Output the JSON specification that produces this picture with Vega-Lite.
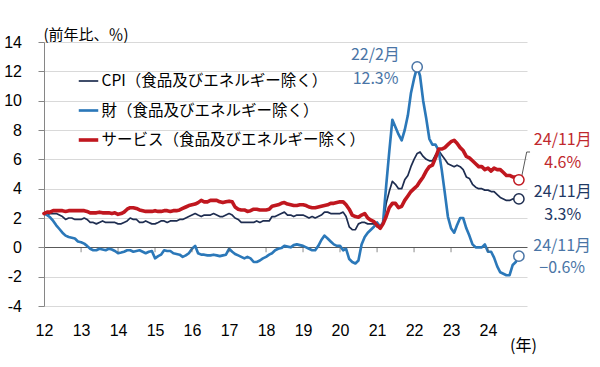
{
  "$schema": "https://vega.github.io/schema/vega-lite/v6.json",
  "width": 483,
  "height": 264,
  "autosize": "none",
  "padding": {"left": 44, "top": 42, "right": 73, "bottom": 61},
  "background": "white",
  "config": {"view": {"stroke": null}, "font": "Noto Sans CJK JP"},
  "datasets": {
    "d": [
      {"d":"2012-01-01","c":2.3,"g":2.3,"s":2.3},
      {"d":"2012-02-01","c":2.2,"g":2.2,"s":2.4},
      {"d":"2012-03-01","c":2.3,"g":2.05,"s":2.4},
      {"d":"2012-04-01","c":2.3,"g":1.8,"s":2.5},
      {"d":"2012-05-01","c":2.3,"g":1.5,"s":2.5},
      {"d":"2012-06-01","c":2.2,"g":1.25,"s":2.5},
      {"d":"2012-07-01","c":2.1,"g":1.0,"s":2.5},
      {"d":"2012-08-01","c":1.9,"g":0.8,"s":2.45},
      {"d":"2012-09-01","c":2.0,"g":0.7,"s":2.5},
      {"d":"2012-10-01","c":2.0,"g":0.65,"s":2.5},
      {"d":"2012-11-01","c":1.9,"g":0.6,"s":2.5},
      {"d":"2012-12-01","c":1.9,"g":0.4,"s":2.5},
      {"d":"2013-01-01","c":1.9,"g":0.35,"s":2.5},
      {"d":"2013-02-01","c":2.0,"g":0.25,"s":2.5},
      {"d":"2013-03-01","c":1.9,"g":0.1,"s":2.45},
      {"d":"2013-04-01","c":1.7,"g":-0.1,"s":2.35},
      {"d":"2013-05-01","c":1.7,"g":-0.2,"s":2.35},
      {"d":"2013-06-01","c":1.6,"g":-0.2,"s":2.35},
      {"d":"2013-07-01","c":1.7,"g":-0.1,"s":2.4},
      {"d":"2013-08-01","c":1.8,"g":-0.15,"s":2.35},
      {"d":"2013-09-01","c":1.7,"g":-0.2,"s":2.35},
      {"d":"2013-10-01","c":1.7,"g":-0.1,"s":2.35},
      {"d":"2013-11-01","c":1.7,"g":-0.15,"s":2.3},
      {"d":"2013-12-01","c":1.7,"g":-0.25,"s":2.35},
      {"d":"2014-01-01","c":1.6,"g":-0.4,"s":2.25},
      {"d":"2014-02-01","c":1.6,"g":-0.35,"s":2.3},
      {"d":"2014-03-01","c":1.7,"g":-0.3,"s":2.4},
      {"d":"2014-04-01","c":1.8,"g":-0.2,"s":2.6},
      {"d":"2014-05-01","c":2.0,"g":-0.2,"s":2.7},
      {"d":"2014-06-01","c":1.9,"g":-0.3,"s":2.7},
      {"d":"2014-07-01","c":1.9,"g":-0.25,"s":2.65},
      {"d":"2014-08-01","c":1.7,"g":-0.2,"s":2.55},
      {"d":"2014-09-01","c":1.7,"g":-0.3,"s":2.5},
      {"d":"2014-10-01","c":1.8,"g":-0.4,"s":2.45},
      {"d":"2014-11-01","c":1.7,"g":-0.3,"s":2.45},
      {"d":"2014-12-01","c":1.6,"g":-0.25,"s":2.45},
      {"d":"2015-01-01","c":1.6,"g":-0.75,"s":2.5},
      {"d":"2015-02-01","c":1.7,"g":-0.6,"s":2.45},
      {"d":"2015-03-01","c":1.8,"g":-0.5,"s":2.45},
      {"d":"2015-04-01","c":1.8,"g":-0.2,"s":2.5},
      {"d":"2015-05-01","c":1.7,"g":-0.25,"s":2.5},
      {"d":"2015-06-01","c":1.8,"g":-0.25,"s":2.45},
      {"d":"2015-07-01","c":1.8,"g":-0.4,"s":2.5},
      {"d":"2015-08-01","c":1.8,"g":-0.45,"s":2.5},
      {"d":"2015-09-01","c":1.9,"g":-0.5,"s":2.55},
      {"d":"2015-10-01","c":1.9,"g":-0.65,"s":2.65},
      {"d":"2015-11-01","c":2.0,"g":-0.55,"s":2.75},
      {"d":"2015-12-01","c":2.1,"g":-0.4,"s":2.85},
      {"d":"2016-01-01","c":2.2,"g":-0.1,"s":2.9},
      {"d":"2016-02-01","c":2.3,"g":0.1,"s":2.95},
      {"d":"2016-03-01","c":2.2,"g":-0.4,"s":3.05},
      {"d":"2016-04-01","c":2.1,"g":-0.5,"s":3.2},
      {"d":"2016-05-01","c":2.2,"g":-0.5,"s":3.1},
      {"d":"2016-06-01","c":2.2,"g":-0.55,"s":3.1},
      {"d":"2016-07-01","c":2.2,"g":-0.55,"s":3.2},
      {"d":"2016-08-01","c":2.3,"g":-0.5,"s":3.2},
      {"d":"2016-09-01","c":2.2,"g":-0.55,"s":3.2},
      {"d":"2016-10-01","c":2.1,"g":-0.6,"s":3.1},
      {"d":"2016-11-01","c":2.1,"g":-0.55,"s":3.05},
      {"d":"2016-12-01","c":2.2,"g":-0.5,"s":3.1},
      {"d":"2017-01-01","c":2.3,"g":-0.1,"s":3.15},
      {"d":"2017-02-01","c":2.2,"g":-0.3,"s":3.1},
      {"d":"2017-03-01","c":2.0,"g":-0.45,"s":2.75},
      {"d":"2017-04-01","c":1.9,"g":-0.55,"s":2.6},
      {"d":"2017-05-01","c":1.7,"g":-0.65,"s":2.55},
      {"d":"2017-06-01","c":1.7,"g":-0.75,"s":2.55},
      {"d":"2017-07-01","c":1.7,"g":-0.65,"s":2.45},
      {"d":"2017-08-01","c":1.7,"g":-0.75,"s":2.5},
      {"d":"2017-09-01","c":1.7,"g":-1.0,"s":2.6},
      {"d":"2017-10-01","c":1.8,"g":-1.0,"s":2.6},
      {"d":"2017-11-01","c":1.7,"g":-0.9,"s":2.55},
      {"d":"2017-12-01","c":1.8,"g":-0.75,"s":2.55},
      {"d":"2018-01-01","c":1.8,"g":-0.65,"s":2.55},
      {"d":"2018-02-01","c":1.8,"g":-0.5,"s":2.6},
      {"d":"2018-03-01","c":2.1,"g":-0.4,"s":2.8},
      {"d":"2018-04-01","c":2.1,"g":-0.2,"s":2.85},
      {"d":"2018-05-01","c":2.2,"g":-0.1,"s":2.9},
      {"d":"2018-06-01","c":2.3,"g":-0.05,"s":3.0},
      {"d":"2018-07-01","c":2.4,"g":0.1,"s":3.05},
      {"d":"2018-08-01","c":2.2,"g":0.05,"s":2.95},
      {"d":"2018-09-01","c":2.2,"g":0.0,"s":2.9},
      {"d":"2018-10-01","c":2.1,"g":0.15,"s":2.85},
      {"d":"2018-11-01","c":2.2,"g":0.2,"s":2.85},
      {"d":"2018-12-01","c":2.2,"g":0.15,"s":2.9},
      {"d":"2019-01-01","c":2.2,"g":0.1,"s":2.9},
      {"d":"2019-02-01","c":2.1,"g":0.0,"s":2.85},
      {"d":"2019-03-01","c":2.0,"g":-0.1,"s":2.75},
      {"d":"2019-04-01","c":2.1,"g":-0.2,"s":2.7},
      {"d":"2019-05-01","c":2.0,"g":-0.2,"s":2.7},
      {"d":"2019-06-01","c":2.1,"g":0.1,"s":2.75},
      {"d":"2019-07-01","c":2.2,"g":0.5,"s":2.8},
      {"d":"2019-08-01","c":2.4,"g":0.8,"s":2.85},
      {"d":"2019-09-01","c":2.4,"g":0.6,"s":2.9},
      {"d":"2019-10-01","c":2.3,"g":0.4,"s":3.0},
      {"d":"2019-11-01","c":2.3,"g":0.2,"s":3.0},
      {"d":"2019-12-01","c":2.3,"g":0.1,"s":3.05},
      {"d":"2020-01-01","c":2.3,"g":0.1,"s":3.1},
      {"d":"2020-02-01","c":2.4,"g":-0.2,"s":3.1},
      {"d":"2020-03-01","c":2.1,"g":-0.1,"s":2.9},
      {"d":"2020-04-01","c":1.4,"g":-0.8,"s":2.6},
      {"d":"2020-05-01","c":1.2,"g":-1.0,"s":2.2},
      {"d":"2020-06-01","c":1.2,"g":-1.1,"s":2.1},
      {"d":"2020-07-01","c":1.6,"g":-0.9,"s":2.05},
      {"d":"2020-08-01","c":1.7,"g":0.2,"s":2.2},
      {"d":"2020-09-01","c":1.7,"g":0.7,"s":2.3},
      {"d":"2020-10-01","c":1.6,"g":1.0,"s":2.0},
      {"d":"2020-11-01","c":1.6,"g":1.2,"s":1.85},
      {"d":"2020-12-01","c":1.6,"g":1.4,"s":1.75},
      {"d":"2021-01-01","c":1.4,"g":1.7,"s":1.5},
      {"d":"2021-02-01","c":1.3,"g":1.4,"s":1.3},
      {"d":"2021-03-01","c":1.6,"g":1.7,"s":1.6},
      {"d":"2021-04-01","c":3.0,"g":4.2,"s":2.1},
      {"d":"2021-05-01","c":3.8,"g":6.5,"s":2.7},
      {"d":"2021-06-01","c":4.5,"g":8.7,"s":3.0},
      {"d":"2021-07-01","c":4.3,"g":8.2,"s":3.0},
      {"d":"2021-08-01","c":4.0,"g":7.7,"s":2.7},
      {"d":"2021-09-01","c":4.0,"g":7.3,"s":2.8},
      {"d":"2021-10-01","c":4.6,"g":8.0,"s":3.2},
      {"d":"2021-11-01","c":4.9,"g":9.0,"s":3.5},
      {"d":"2021-12-01","c":5.5,"g":10.5,"s":3.8},
      {"d":"2022-01-01","c":6.0,"g":11.5,"s":4.0},
      {"d":"2022-02-01","c":6.4,"g":12.3,"s":4.2},
      {"d":"2022-03-01","c":6.5,"g":11.7,"s":4.5},
      {"d":"2022-04-01","c":6.2,"g":10.0,"s":4.8},
      {"d":"2022-05-01","c":6.0,"g":8.8,"s":5.2},
      {"d":"2022-06-01","c":5.9,"g":7.4,"s":5.5},
      {"d":"2022-07-01","c":5.9,"g":7.0,"s":5.6},
      {"d":"2022-08-01","c":6.3,"g":7.0,"s":6.1},
      {"d":"2022-09-01","c":6.6,"g":6.6,"s":6.7},
      {"d":"2022-10-01","c":6.3,"g":5.3,"s":6.7},
      {"d":"2022-11-01","c":6.0,"g":3.7,"s":6.8},
      {"d":"2022-12-01","c":5.7,"g":2.1,"s":7.0},
      {"d":"2023-01-01","c":5.6,"g":1.3,"s":7.2},
      {"d":"2023-02-01","c":5.5,"g":1.0,"s":7.3},
      {"d":"2023-03-01","c":5.6,"g":1.5,"s":7.1},
      {"d":"2023-04-01","c":5.5,"g":2.0,"s":6.8},
      {"d":"2023-05-01","c":5.3,"g":2.0,"s":6.6},
      {"d":"2023-06-01","c":4.8,"g":1.3,"s":6.2},
      {"d":"2023-07-01","c":4.7,"g":0.8,"s":6.1},
      {"d":"2023-08-01","c":4.3,"g":0.2,"s":5.9},
      {"d":"2023-09-01","c":4.1,"g":0.0,"s":5.7},
      {"d":"2023-10-01","c":4.0,"g":0.0,"s":5.5},
      {"d":"2023-11-01","c":4.0,"g":0.0,"s":5.5},
      {"d":"2023-12-01","c":3.9,"g":0.2,"s":5.3},
      {"d":"2024-01-01","c":3.9,"g":-0.3,"s":5.4},
      {"d":"2024-02-01","c":3.8,"g":-0.3,"s":5.2},
      {"d":"2024-03-01","c":3.8,"g":-0.7,"s":5.4},
      {"d":"2024-04-01","c":3.6,"g":-1.3,"s":5.3},
      {"d":"2024-05-01","c":3.4,"g":-1.7,"s":5.3},
      {"d":"2024-06-01","c":3.3,"g":-1.8,"s":5.1},
      {"d":"2024-07-01","c":3.2,"g":-1.9,"s":4.9},
      {"d":"2024-08-01","c":3.2,"g":-1.9,"s":4.9},
      {"d":"2024-09-01","c":3.3,"g":-1.2,"s":4.8},
      {"d":"2024-10-01","c":3.3,"g":-1.0,"s":4.8},
      {"d":"2024-11-01","c":3.3,"g":-0.6,"s":4.6}
    ],
    "yrs": [
      {"d":"2013-01-01","v":0},{"d":"2014-01-01","v":0},{"d":"2015-01-01","v":0},{"d":"2016-01-01","v":0},
      {"d":"2017-01-01","v":0},{"d":"2018-01-01","v":0},{"d":"2019-01-01","v":0},{"d":"2020-01-01","v":0},
      {"d":"2021-01-01","v":0},{"d":"2022-01-01","v":0},{"d":"2023-01-01","v":0},{"d":"2024-01-01","v":0}
    ],
    "pts": [
      {"d":"2022-02-01","v":12.3,"k":"g"},
      {"d":"2024-11-01","v":4.6,"k":"s"},
      {"d":"2024-11-01","v":3.3,"k":"c"},
      {"d":"2024-11-01","v":-0.6,"k":"g"}
    ],
    "lead": [
      {"d":"2024-11-25","v":4.7},
      {"d":"2025-01-17","v":6.5},
      {"d":"2025-02-19","v":6.5}
    ],
    "ann": [
      {"d":"2020-12-15","v":13.09,"t":"22/2月","k":"g"},
      {"d":"2020-12-17","v":11.45,"t":"12.3%","k":"g"},
      {"d":"2026-01-08","v":7.3,"t":"24/11月","k":"s"},
      {"d":"2026-01-08","v":5.73,"t":"4.6%","k":"s"},
      {"d":"2026-01-08","v":3.75,"t":"24/11月","k":"c"},
      {"d":"2026-01-08","v":2.18,"t":"3.3%","k":"c"},
      {"d":"2026-01-02","v":0.07,"t":"24/11月","k":"g"},
      {"d":"2026-01-02","v":-1.43,"t":"−0.6%","k":"g"}
    ]
  },
  "encoding": {
    "x": {
      "field": "d", "type": "temporal",
      "scale": {"type": "utc", "domain": [{"year": 2012, "month": 1, "date": 1, "utc": true}, {"year": 2025, "month": 1, "date": 20, "utc": true}]},
      "axis": {
        "values": [{"year":2012,"utc":true},{"year":2013,"utc":true},{"year":2014,"utc":true},{"year":2015,"utc":true},{"year":2016,"utc":true},{"year":2017,"utc":true},{"year":2018,"utc":true},{"year":2019,"utc":true},{"year":2020,"utc":true},{"year":2021,"utc":true},{"year":2022,"utc":true},{"year":2023,"utc":true},{"year":2024,"utc":true}],
        "format": "%y",
        "title": "(年)",
        "titleX": 479, "titleY": 39, "titleAlign": "center", "titleBaseline": "middle",
        "titleFontSize": 16, "titleFontWeight": "normal", "titleFont": "Noto Sans CJK JP", "titleColor": "#000",
        "ticks": false, "domain": false, "grid": false,
        "labelPadding": 16, "labelFontSize": 16, "labelFont": "Liberation Sans", "labelColor": "#000",
        "labelFlush": false, "labelOverlap": false
      }
    },
    "y": {
      "field": "v", "type": "quantitative",
      "scale": {"domain": [-4, 14], "nice": false, "zero": false},
      "axis": {
        "values": [-4, -2, 0, 2, 4, 6, 8, 10, 12, 14],
        "labelOverlap": false,
        "title": "(前年比、％)",
        "titleAngle": 0, "titleX": -1, "titleY": -8, "titleAlign": "left", "titleBaseline": "middle",
        "titleFontSize": 15, "titleFontWeight": "normal", "titleFont": "Noto Sans CJK JP", "titleColor": "#000",
        "grid": true,
        "gridColor": {"condition": {"test": "datum.value === 0", "value": "#595959"}, "value": "#d9d9d9"},
        "gridWidth": 1,
        "domainColor": "#868686", "tickColor": "#868686", "tickSize": 6,
        "labelPadding": 16.5, "labelFontSize": 16, "labelFont": "Liberation Sans", "labelColor": "#000",
        "labelExpr": "replace(datum.label, '−', '-')"
      }
    }
  },
  "layer": [
    {
      "data": {"name": "d"},
      "transform": [{"fold": ["c", "g", "s"], "as": ["k", "v"]}],
      "mark": {"type": "line", "strokeJoin": "round", "strokeCap": "round"},
      "encoding": {
        "color": {
          "field": "k", "type": "nominal",
          "scale": {"domain": ["c", "g", "s"], "range": ["#1e2d50", "#2b78b9", "#c0171f"]},
          "legend": {
            "orient": "none", "legendX": 32.5, "legendY": 28, "title": null,
            "symbolType": "stroke", "symbolSize": 380,
            "labelFontSize": 15.5, "labelFont": "Noto Sans CJK JP", "labelColor": "#000", "labelLimit": 400,
            "labelOffset": 1, "rowPadding": 9, "padding": 0,
            "labelExpr": "datum.label == 'c' ? 'CPI（食品及びエネルギー除く）' : datum.label == 'g' ? '財（食品及びエネルギー除く）' : 'サービス（食品及びエネルギー除く）'"
          }
        },
        "strokeWidth": {
          "field": "k", "type": "nominal",
          "scale": {"domain": ["c", "g", "s"], "range": [1.7, 3.6, 3.6]},
          "legend": {
            "orient": "none", "legendX": 32.5, "legendY": 28, "title": null,
            "symbolType": "stroke", "symbolSize": 380,
            "labelFontSize": 15.5, "labelFont": "Noto Sans CJK JP", "labelColor": "#000", "labelLimit": 400,
            "labelOffset": 1, "rowPadding": 9, "padding": 0,
            "labelExpr": "datum.label == 'c' ? 'CPI（食品及びエネルギー除く）' : datum.label == 'g' ? '財（食品及びエネルギー除く）' : 'サービス（食品及びエネルギー除く）'"
          }
        }
      }
    },
    {
      "data": {"name": "yrs"},
      "mark": {"type": "tick", "orient": "vertical", "size": 5, "yOffset": 2.5, "thickness": 1, "color": "#595959"}
    },
    {
      "data": {"name": "lead"},
      "mark": {"type": "line", "color": "#595959", "strokeWidth": 1},
      "encoding": {}
    },
    {
      "data": {"name": "pts"},
      "mark": {"type": "point", "shape": "circle", "filled": true, "fill": "white", "fillOpacity": 1, "opacity": 1, "size": 105, "strokeWidth": 1.5},
      "encoding": {
        "stroke": {
          "field": "k", "type": "nominal",
          "scale": {"domain": ["c", "g", "s"], "range": ["#1e2d50", "#4a75a6", "#c0171f"]},
          "legend": null
        }
      }
    },
    {
      "data": {"name": "ann"},
      "mark": {"type": "text", "align": "center", "baseline": "middle", "fontSize": 16, "font": "Noto Sans CJK JP"},
      "encoding": {
        "text": {"field": "t", "type": "nominal"},
        "fill": {
          "field": "k", "type": "nominal",
          "scale": {"domain": ["c", "g", "s"], "range": ["#1f3864", "#4a75a6", "#c0282d"]},
          "legend": null
        }
      }
    }
  ]
}
